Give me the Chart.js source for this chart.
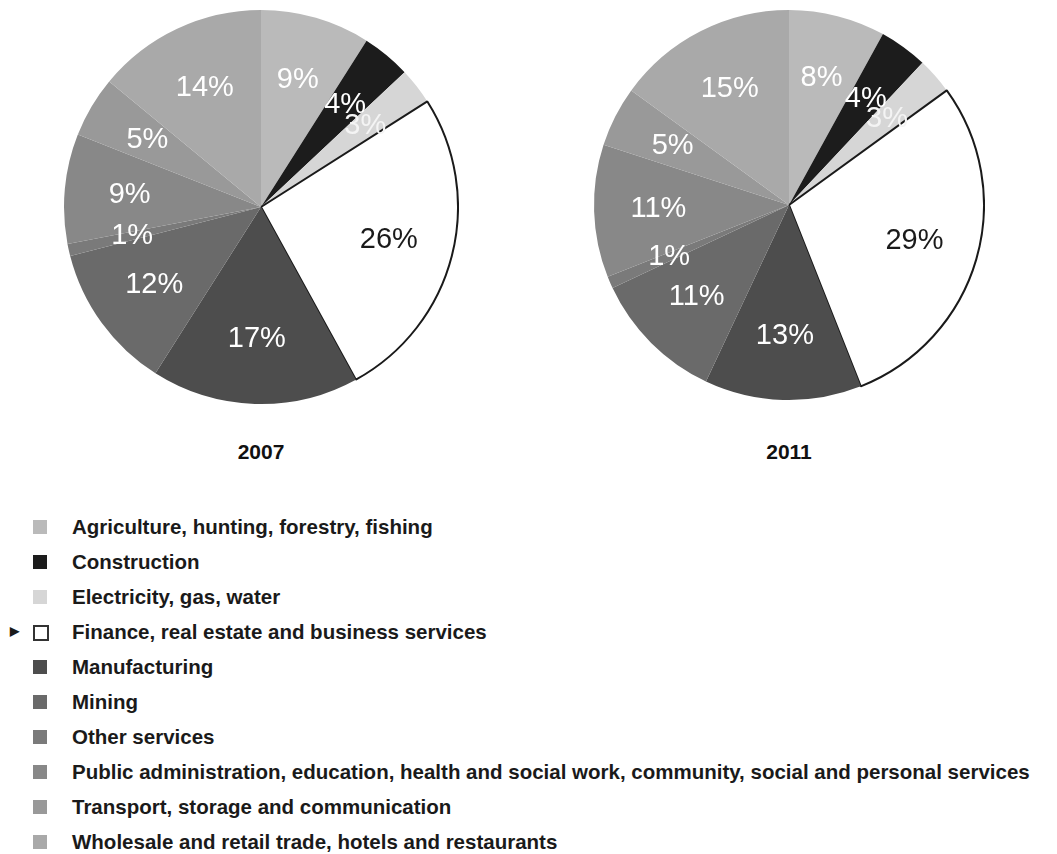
<!DOCTYPE html>
<html lang="en">
<head>
  <meta charset="UTF-8">
  <title>GDP by sector 2007 / 2011</title>
  <script src="https://cdn.jsdelivr.net/npm/chart.js"></script>
  <style>
    body { margin: 0; background: #fff; font-family: "Liberation Sans", Arial, sans-serif; }
    #wrap { position: relative; width: 1057px; height: 854px; overflow: hidden; }
    canvas { position: absolute; }
    .year { position: absolute; width: 120px; text-align: center; font-weight: bold; font-size: 21px; color: #111; }
    #legend { position: absolute; left: 0; top: 509px; }
    .row { position: relative; height: 35px; line-height: 35px; font-weight: bold; font-size: 20.5px; color: #1a1a1a; white-space: nowrap; }
    .sw { position: absolute; left: 33px; top: 11px; width: 14px; height: 14px; }
    .txt { position: absolute; left: 72px; top: 0; }
    .arrow { position: absolute; left: 10px; top: 0; font-size: 12px; }
  </style>
</head>
<body>
  <div id="wrap">
    <canvas id="pie2007" width="396" height="396" style="left:63px; top:9px;"></canvas>
    <canvas id="pie2011" width="392" height="392" style="left:593px; top:9px;"></canvas>
    <div class="year" style="left:201px; top:440px;">2007</div>
    <div class="year" style="left:729px; top:440px;">2011</div>
    <div id="legend"></div>
  </div>

  <script>
    // Datos
    const sectores = [
      'Agriculture, hunting, forestry, fishing',
      'Construction',
      'Electricity, gas, water',
      'Finance, real estate and business services',
      'Manufacturing',
      'Mining',
      'Other services',
      'Public administration, education, health and social work, community, social and personal services',
      'Transport, storage and communication',
      'Wholesale and retail trade, hotels and restaurants'
    ];
    const valores2007 = [9, 4, 3, 26, 17, 12, 1, 9, 5, 14];
    const valores2011 = [8, 4, 3, 29, 13, 11, 1, 11, 5, 15];

    const colores = ['#bababa', '#1c1c1c', '#d6d6d6', '#ffffff', '#4d4d4d', '#6a6a6a', '#7a7a7a', '#888888', '#999999', '#a9a9a9'];
    const bordes = colores.map((c, i) => i === 3 ? '#1a1a1a' : c);
    const anchoBorde = colores.map((c, i) => i === 3 ? 2 : 0);
    const colorTexto = colores.map((c, i) => i === 3 ? '#1a1a1a' : (i === 2 ? '#f4f4f4' : '#ffffff'));

    // etiquetas de porcentaje dentro de cada porcion
    const etiquetas = {
      id: 'etiquetas',
      afterDatasetsDraw(chart) {
        const ctx = chart.ctx;
        const meta = chart.getDatasetMeta(0);
        const datos = chart.data.datasets[0].data;
        ctx.save();
        ctx.font = '29px "Liberation Sans", Arial, sans-serif';
        ctx.textAlign = 'center';
        ctx.textBaseline = 'middle';
        meta.data.forEach((arc, i) => {
          const p = arc.getProps(['x', 'y', 'startAngle', 'endAngle', 'outerRadius'], true);
          const medio = (p.startAngle + p.endAngle) / 2;
          const r = p.outerRadius * 0.67;
          ctx.fillStyle = colorTexto[i];
          ctx.fillText(datos[i] + '%', p.x + Math.cos(medio) * r, p.y + Math.sin(medio) * r);
        });
        ctx.restore();
      }
    };

    function crearPie(id, valores) {
      return new Chart(document.getElementById(id), {
        type: 'pie',
        data: {
          labels: sectores,
          datasets: [{
            data: valores,
            backgroundColor: colores,
            borderColor: bordes,
            borderWidth: anchoBorde
          }]
        },
        options: {
          responsive: false,
          animation: false,
          layout: { padding: 0 },
          plugins: {
            legend: { display: false },
            tooltip: { enabled: false }
          }
        },
        plugins: [etiquetas]
      });
    }

    crearPie('pie2007', valores2007);
    crearPie('pie2011', valores2011);

    // leyenda
    const leyenda = document.getElementById('legend');
    sectores.forEach((s, i) => {
      const fila = document.createElement('div');
      fila.className = 'row';
      const caja = document.createElement('div');
      caja.className = 'sw';
      caja.style.background = colores[i];
      if (i === 3) {
        caja.style.border = '2px solid #333';
        caja.style.width = '12px';
        caja.style.height = '12px';
        const flecha = document.createElement('span');
        flecha.className = 'arrow';
        flecha.textContent = '\u25B6';
        fila.appendChild(flecha);
      }
      const txt = document.createElement('span');
      txt.className = 'txt';
      txt.textContent = s;
      fila.appendChild(caja);
      fila.appendChild(txt);
      leyenda.appendChild(fila);
    });
  </script>
</body>
</html>
